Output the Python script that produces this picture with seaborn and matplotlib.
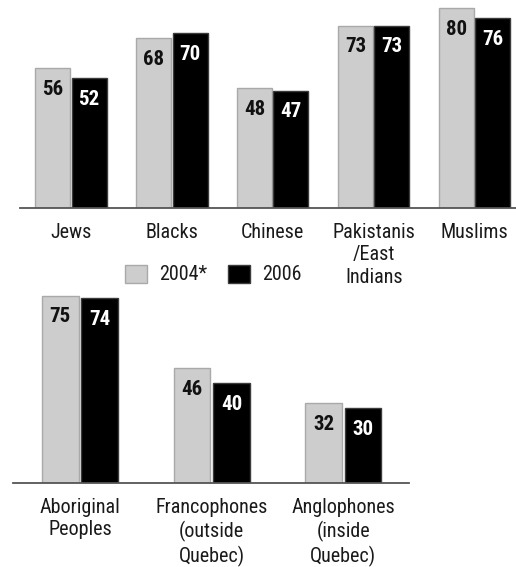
import matplotlib
matplotlib.use("Agg")
import matplotlib.pyplot as plt
from matplotlib import font_manager
import seaborn as sns
import pandas as pd
from matplotlib.patches import Patch

# Survey results (percent) by group, for the two survey years
years = ["2004*", "2006"]

top_groups = ["Jews", "Blacks", "Chinese", "Pakistanis\n/East\nIndians", "Muslims"]
top_2004 = [56, 68, 48, 73, 80]
top_2006 = [52, 70, 47, 73, 76]

bottom_groups = ["Aboriginal\nPeoples", "Francophones\n(outside\nQuebec)",
                 "Anglophones\n(inside\nQuebec)"]
bottom_2004 = [75, 46, 32]
bottom_2006 = [74, 40, 30]

fills = {"2004*": "#cdcdcd", "2006": "#000000"}
edges = {"2004*": "#a9a9a9", "2006": "#3c3c3c"}
text_colors = {"2004*": "#111111", "2006": "#ffffff"}

sns.set_style("white")

# A narrow sans face for all text, first one installed wins
installed = {f.name for f in font_manager.fontManager.ttflist}
narrow = next((n for n in ["Roboto Condensed", "Archivo Narrow", "PT Sans Narrow"]
               if n in installed), "DejaVu Sans")
plt.rcParams["font.family"] = [narrow, "DejaVu Sans"]


def to_frame(groups, first, second):
    rows = []
    for g, a, b in zip(groups, first, second):
        rows.append({"group": g, "year": years[0], "value": a})
        rows.append({"group": g, "year": years[1], "value": b})
    return pd.DataFrame(rows)


def draw_panel(ax, df, groups, width, gap, xlim, ylim):
    sns.barplot(data=df, x="group", y="value", hue="year", order=groups,
                hue_order=years, palette=fills, width=width, gap=gap,
                linewidth=1.0, saturation=1, legend=False, ax=ax)
    for year, cont in zip(years, ax.containers):
        for bar in cont:
            bar.set_edgecolor(edges[year])
            h = bar.get_height()
            ax.annotate(f"{h:.0f}", xy=(bar.get_x() + bar.get_width() / 2, h),
                        xytext=(0, -15.3), textcoords="offset points",
                        ha="center", va="center", fontsize=15,
                        fontweight="bold", color=text_colors[year])
    ax.set_xlim(*xlim)
    ax.set_ylim(0, ylim)
    ax.set_xlabel("")
    ax.set_ylabel("")
    ax.set_yticks([])
    for side in ("top", "left", "right"):
        ax.spines[side].set_visible(False)
    ax.spines["bottom"].set_color("#555555")
    ax.spines["bottom"].set_linewidth(1.3)
    ax.tick_params(axis="x", length=0, pad=10.5, labelsize=14.5, colors="#1a1a1a")
    for lbl in ax.get_xticklabels():
        lbl.set_linespacing(1.26)


W, H = 516, 567
fig = plt.figure(figsize=(W / 100, H / 100), dpi=100)

ax_top = fig.add_axes([20 / W, 1 - 208 / H, 496 / W, 208 / H])
draw_panel(ax_top, to_frame(top_groups, top_2004, top_2006), top_groups,
           width=0.72, gap=0.035, xlim=(-0.505, 4.41), ylim=83.2)

ax_bot = fig.add_axes([13 / W, 1 - 483 / H, 396 / W, 193 / H])
draw_panel(ax_bot, to_frame(bottom_groups, bottom_2004, bottom_2006), bottom_groups,
           width=0.60, gap=0.07, xlim=(-0.51, 2.50), ylim=77.2)

handles = [Patch(facecolor=fills[y], edgecolor=edges[y], linewidth=1.0, label=y)
           for y in years]
fig.legend(handles=handles, loc="center", bbox_to_anchor=(213.5 / W, 1 - 274.5 / H),
           ncol=2, frameon=False, fontsize=14.5, handlelength=1.08, handleheight=1.0,
           handletextpad=0.62, columnspacing=1.0, borderpad=0, labelcolor="#1a1a1a")

fig.savefig("out.png", dpi=100)
